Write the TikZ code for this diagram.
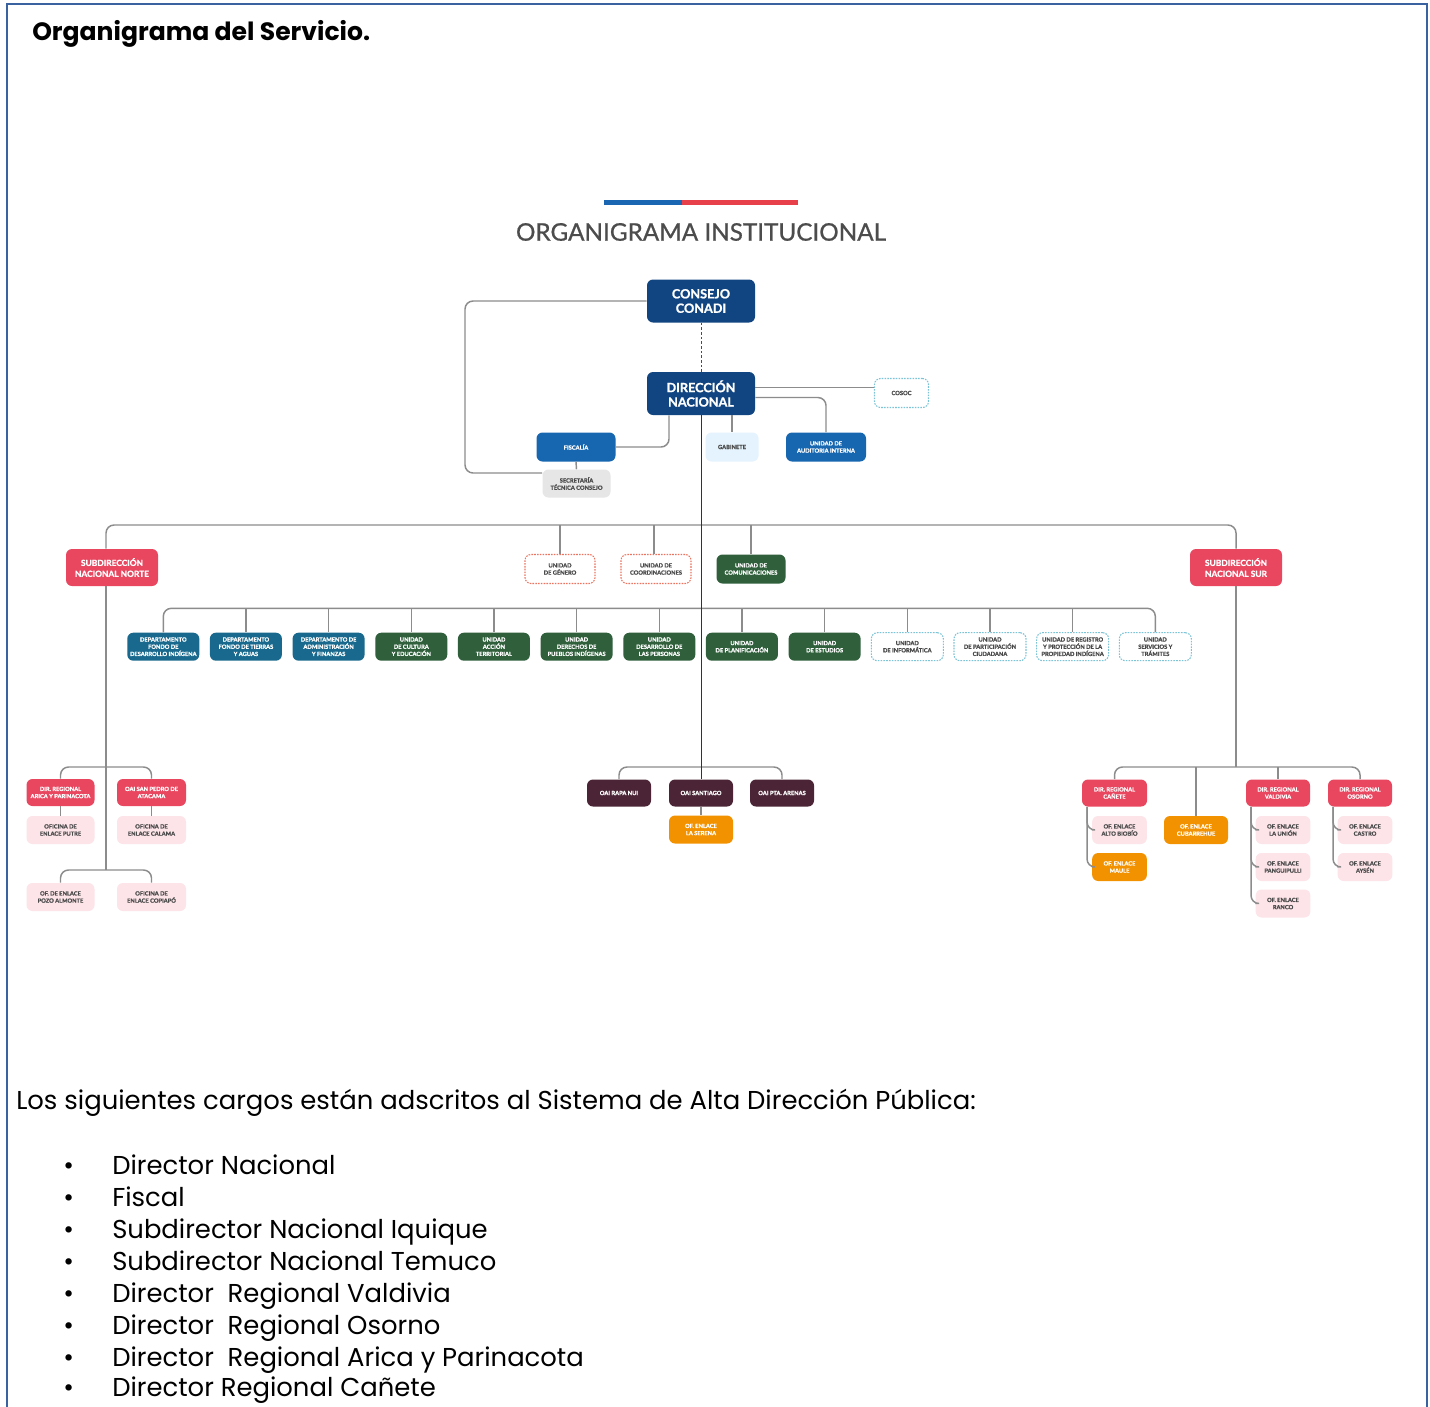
\documentclass[tikz,border=0pt]{standalone}
\usepackage{fontspec}
\setmainfont{Poppins}
\newfontfamily\chartfont{Lato}[BoldFeatures={FakeBold=1.2}]
\newfontfamily\ctitlefont{Lato}[FakeBold=0.7]
\definecolor{frameblue}{HTML}{3A62A0}
\definecolor{cnavy}{HTML}{114581}
\definecolor{cblue}{HTML}{1766B0}
\definecolor{cteal}{HTML}{18698D}
\definecolor{cgreen}{HTML}{2F5F3B}
\definecolor{cred}{HTML}{E8475F}
\definecolor{cpink}{HTML}{FCE4E8}
\definecolor{corange}{HTML}{F39200}
\definecolor{cmaroon}{HTML}{4B2535}
\definecolor{clightblue}{HTML}{E4F3FD}
\definecolor{clightgray}{HTML}{E6E6E6}
\definecolor{cdashcyan}{HTML}{7CC3D6}
\definecolor{cdashred}{HTML}{EA7460}
\definecolor{ctext}{HTML}{4A4A4A}
\definecolor{cline}{HTML}{8C8C8C}
\definecolor{barblue}{HTML}{1A66B3}
\definecolor{barred}{HTML}{E8404B}
\definecolor{ctitle}{HTML}{4C4C4C}
\tikzset{
  box/.style={rounded corners=4.5pt, inner sep=0pt, align=center, text=white,
    font=\chartfont\bfseries\fontsize{4.3}{5.4}\selectfont},
  bigbox/.style={box, font=\chartfont\bfseries\fontsize{9.5}{10.8}\selectfont},
  subbox/.style={box, font=\chartfont\bfseries\fontsize{6.3}{8.2}\selectfont},
  dboxc/.style={box, fill=white, text=ctext, draw=cdashcyan, dash pattern=on 1.2pt off 0.9pt, line width=0.8pt},
  dboxr/.style={box, fill=white, text=ctext, draw=cdashred, dash pattern=on 1.2pt off 0.9pt, line width=0.8pt},
  unit/.style={box, minimum width=54pt, minimum height=21pt},
  small/.style={box, minimum width=48pt, minimum height=20.25pt},
  tiny/.style={box, minimum width=41pt, minimum height=21pt},
  conn/.style={draw=cline, line width=1.1pt, rounded corners=6pt},
  mainline/.style={draw=black!80, line width=0.75pt},
  pagetext/.style={anchor=base west, font=\fontsize{19.4}{22}\selectfont, inner sep=0pt}
}
\begin{document}
\begin{tikzpicture}[x=0.75pt,y=-0.75pt]
\useasboundingbox (0,0) rectangle (1430,1406);
\fill[white] (0,0) rectangle (1430,1406);
\draw[frameblue, line width=1.5pt] (7,1420) -- (7,4) -- (1427,4) -- (1427,1420);

\node[anchor=base west, inner sep=0pt, font=\bfseries\fontsize{18.8}{22}\selectfont] (title) at (32,40) {Organigrama del Servicio.};

% chart header
\fill[barblue] (604,200) rectangle (682,204.5);
\fill[barred] (682,200) rectangle (798,204.5);
\node[font=\ctitlefont\fontsize{18.2}{20}\selectfont, text=ctitle, inner sep=0pt] (ctitle) at (701,232) {ORGANIGRAMA INSTITUCIONAL};

% top
\node[bigbox, minimum width=81pt, minimum height=32.25pt, fill=cnavy] (consejo) at (701,301) {CONSEJO\\CONADI};
\node[bigbox, minimum width=81pt, minimum height=32.25pt, fill=cnavy] (dn) at (701,393.5) {DIRECCIÓN\\NACIONAL};
\node[dboxc, minimum width=40.5pt, minimum height=21.75pt] (cosoc) at (901.5,393) {COSOC};
\node[box, minimum width=59.25pt, minimum height=21.75pt, fill=cblue] (fiscalia) at (576,447) {FISCALÍA};
\node[box, minimum width=39.75pt, minimum height=21.75pt, fill=clightblue, text=ctext] (gabinete) at (732,447) {GABINETE};
\node[box, minimum width=60pt, minimum height=21.75pt, fill=cblue] (auditoria) at (826,447) {UNIDAD DE\\AUDITORIA INTERNA};
\node[box, minimum width=51pt, minimum height=21pt, fill=clightgray, text=ctext] (secretaria) at (576.5,483.5) {SECRETARÍA\\TÉCNICA CONSEJO};

% level 2
\node[subbox, minimum width=69pt, minimum height=27.75pt, fill=cred] (subnorte) at (112,567.5) {SUBDIRECCIÓN\\NACIONAL NORTE};
\node[subbox, minimum width=69pt, minimum height=27.75pt, fill=cred] (subsur) at (1236,567.5) {SUBDIRECCIÓN\\NACIONAL SUR};
\node[dboxr, minimum width=52.5pt, minimum height=21.75pt] (genero) at (560,569) {UNIDAD\\DE GÉNERO};
\node[dboxr, minimum width=52.5pt, minimum height=21.75pt] (coord) at (656,569) {UNIDAD DE\\COORDINACIONES};
\node[box, minimum width=51.75pt, minimum height=21.75pt, fill=cgreen] (comunic) at (751,569) {UNIDAD DE\\COMUNICACIONES};

% level 3
\node[unit, fill=cteal] (u1) at (163.3,646.7) {DEPARTAMENTO\\FONDO DE\\DESARROLLO INDÍGENA};
\node[unit, fill=cteal] (u2) at (245.9,646.7) {DEPARTAMENTO\\FONDO DE TIERRAS\\Y AGUAS};
\node[unit, fill=cteal] (u3) at (328.6,646.7) {DEPARTAMENTO DE\\ADMINISTRACIÓN\\Y FINANZAS};
\node[unit, fill=cgreen] (u4) at (411.3,646.7) {UNIDAD\\DE CULTURA\\Y EDUCACIÓN};
\node[unit, fill=cgreen] (u5) at (493.9,646.7) {UNIDAD\\ACCIÓN\\TERRITORIAL};
\node[unit, fill=cgreen] (u6) at (576.6,646.7) {UNIDAD\\DERECHOS DE\\PUEBLOS INDÍGENAS};
\node[unit, fill=cgreen] (u7) at (659.3,646.7) {UNIDAD\\DESARROLLO DE\\LAS PERSONAS};
\node[unit, fill=cgreen] (u8) at (741.9,646.7) {UNIDAD\\DE PLANIFICACIÓN};
\node[unit, fill=cgreen] (u9) at (824.6,646.7) {UNIDAD\\DE ESTUDIOS};
\node[unit, dboxc] (u10) at (907.3,646.7) {UNIDAD\\DE INFORMÁTICA};
\node[unit, dboxc] (u11) at (990,646.7) {UNIDAD\\DE PARTICIPACIÓN\\CIUDADANA};
\node[unit, dboxc] (u12) at (1072.6,646.7) {UNIDAD DE REGISTRO\\Y PROTECCIÓN DE LA\\PROPIEDAD INDÍGENA};
\node[unit, dboxc] (u13) at (1155.3,646.7) {UNIDAD\\SERVICIOS Y\\TRÁMITES};

% left regional
\node[box, minimum width=51pt, minimum height=20.25pt, fill=cred] (arica) at (60.5,792.5) {DIR. REGIONAL\\ARICA Y PARINACOTA};
\node[box, minimum width=51.75pt, minimum height=20.25pt, fill=cred] (sanpedro) at (151.5,792.5) {OAI SAN PEDRO DE\\ATACAMA};
\node[box, minimum width=51pt, minimum height=21pt, fill=cpink, text=ctext] (putre) at (60.5,830) {OFICINA DE\\ENLACE PUTRE};
\node[box, minimum width=51.75pt, minimum height=21pt, fill=cpink, text=ctext] (calama) at (151.5,830) {OFICINA DE\\ENLACE CALAMA};
\node[box, minimum width=51pt, minimum height=21pt, fill=cpink, text=ctext] (pozo) at (60.5,897) {OF. DE ENLACE\\POZO ALMONTE};
\node[box, minimum width=51.75pt, minimum height=21pt, fill=cpink, text=ctext] (copiapo) at (151.5,897) {OFICINA DE\\ENLACE COPIAPÓ};

% middle OAI
\node[small, fill=cmaroon] (rapanui) at (619,793) {OAI RAPA NUI};
\node[small, fill=cmaroon] (santiago) at (701,793) {OAI SANTIAGO};
\node[small, fill=cmaroon] (ptaarenas) at (782,793) {OAI PTA. ARENAS};
\node[small, minimum height=21pt, fill=corange] (serena) at (701,829.5) {OF. ENLACE\\LA SERENA};

% right regional
\node[small, minimum width=48.75pt, fill=cred] (canete) at (1114.5,793) {DIR. REGIONAL\\CAÑETE};
\node[small, minimum height=21pt, fill=corange] (cubarrehue) at (1196,830) {OF. ENLACE\\CUBARREHUE};
\node[small, fill=cred] (valdivia) at (1278,793) {DIR. REGIONAL\\VALDIVIA};
\node[small, fill=cred] (osorno) at (1360,793) {DIR. REGIONAL\\OSORNO};
\node[tiny, fill=cpink, text=ctext] (altobiobio) at (1119.5,830) {OF. ENLACE\\ALTO BIOBÍO};
\node[tiny, fill=corange] (maule) at (1119.5,867) {OF. ENLACE\\MAULE};
\node[tiny, fill=cpink, text=ctext] (launion) at (1283,830) {OF. ENLACE\\LA UNIÓN};
\node[tiny, fill=cpink, text=ctext] (panguipulli) at (1283,867) {OF. ENLACE\\PANGUIPULLI};
\node[tiny, fill=cpink, text=ctext] (ranco) at (1283,903.5) {OF. ENLACE\\RANCO};
\node[tiny, fill=cpink, text=ctext] (castro) at (1365,830) {OF. ENLACE\\CASTRO};
\node[tiny, fill=cpink, text=ctext] (aysen) at (1365,867) {OF. ENLACE\\AYSÉN};

% connectors top
\draw[conn] (consejo.west) -- (465,301) -- (465,473) -- (secretaria.west |- 0,473);
\draw[draw=black!70, line width=0.7pt, dash pattern=on 2pt off 1.5pt] (consejo.south) -- (dn.north);
\draw[conn] (dn.east |- 0,387.5) -- (cosoc.west |- 0,387.5);
\draw[conn] (dn.east |- 0,397.5) -- (auditoria.north |- 0,397.5) -- (auditoria.north);
\draw[conn] (dn.south -| 669,0) -- (669,447) -- (fiscalia.east);
\draw[conn] (gabinete.north |- dn.south) -- (gabinete.north);
\draw[conn] (fiscalia.south) -- (secretaria.north);

% bus 1
\draw[conn] (subnorte.north -| 106,0) -- (106,525) -- (1236,525) -- (subsur.north);
\draw[conn] (genero.north |- 0,525) -- (genero.north);
\draw[conn] (coord.north -| 654,0) -- (654,525);
\draw[conn] (comunic.north |- 0,525) -- (comunic.north);

% bus 2
\draw[conn] (u1.north) -- (163.3,608.3) -- (1155.3,608.3) -- (u13.north);
\foreach \n in {u2,u3,u4,u5,u6,u7,u8,u9,u10,u11,u12}
  \draw[conn] (\n.north |- 0,608.3) -- (\n.north);

% left column
\draw[conn] (subnorte.south -| 106,0) -- (106,870);
\draw[conn] (arica.north) -- (60.5,767) -- (151.5,767) -- (sanpedro.north);
\draw[conn] (pozo.north) -- (60.5,870) -- (151.5,870) -- (copiapo.north);
\draw[conn] (arica.south) -- (putre.north);
\draw[conn] (sanpedro.south) -- (calama.north);

% middle OAI
\draw[conn] (rapanui.north) -- (619,767) -- (782,767) -- (ptaarenas.north);
\draw[mainline] (dn.south) -- (santiago.north);
\draw[conn] (santiago.south) -- (serena.north);

% right column
\draw[conn] (subsur.south) -- (1236,767);
\draw[conn] (canete.north) -- (1114.5,767) -- (1360,767) -- (osorno.north);
\draw[conn] (cubarrehue.north |- 0,767) -- (cubarrehue.north);
\draw[conn] (valdivia.north |- 0,767) -- (valdivia.north);
\draw[conn] (canete.south -| 1087,0) -- (1087,830) -- (altobiobio.west);
\draw[conn] (canete.south -| 1087,0) -- (1087,867) -- (maule.west);
\draw[conn] (valdivia.south -| 1251,0) -- (1251,830) -- (launion.west);
\draw[conn] (valdivia.south -| 1251,0) -- (1251,867) -- (panguipulli.west);
\draw[conn] (valdivia.south -| 1251,0) -- (1251,903.5) -- (ranco.west);
\draw[conn] (osorno.south -| 1333,0) -- (1333,830) -- (castro.west);
\draw[conn] (osorno.south -| 1333,0) -- (1333,867) -- (aysen.west);

% bottom text
\node[pagetext] (intro) at (16,1109) {Los siguientes cargos están adscritos al Sistema de Alta Dirección Pública:};
\node[pagetext] (bul1) at (63,1174) {•}; \node[pagetext] (item1) at (112,1174) {Director Nacional};
\node[pagetext] (bul2) at (63,1206) {•}; \node[pagetext] (item2) at (112,1206) {Fiscal};
\node[pagetext] (bul3) at (63,1238) {•}; \node[pagetext] (item3) at (112,1238) {Subdirector Nacional Iquique};
\node[pagetext] (bul4) at (63,1270) {•}; \node[pagetext] (item4) at (112,1270) {Subdirector Nacional Temuco};
\node[pagetext] (bul5) at (63,1302) {•}; \node[pagetext] (item5) at (112,1302) {Director~ Regional Valdivia};
\node[pagetext] (bul6) at (63,1334) {•}; \node[pagetext] (item6) at (112,1334) {Director~ Regional Osorno};
\node[pagetext] (bul7) at (63,1366) {•}; \node[pagetext] (item7) at (112,1366) {Director~ Regional Arica y Parinacota};
\node[pagetext] (bul8) at (63,1396) {•}; \node[pagetext] (item8) at (112,1396) {Director Regional Cañete};
\end{tikzpicture}
\end{document}
